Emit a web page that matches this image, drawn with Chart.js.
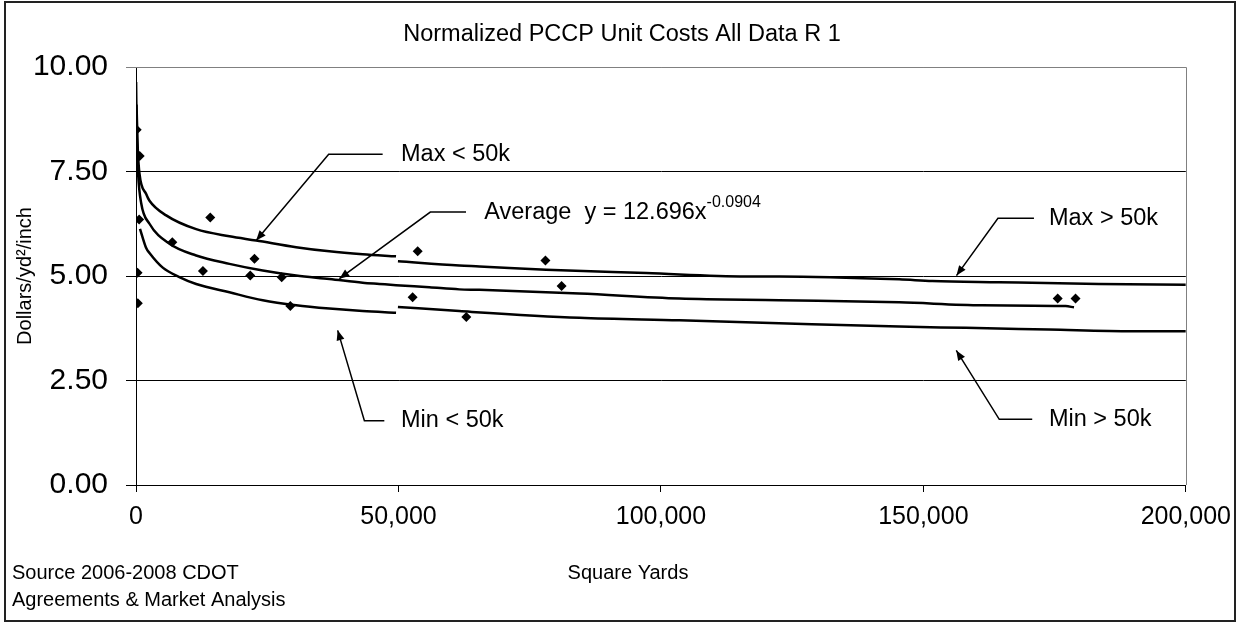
<!DOCTYPE html>
<html>
<head>
<meta charset="utf-8">
<title>Normalized PCCP Unit Costs All Data R 1</title>
<script src="https://cdn.jsdelivr.net/npm/chart.js@4.4.1/dist/chart.umd.min.js"></script>
<style>
  html, body { margin: 0; padding: 0; background: #fff; }
  #wrap { width: 1241px; height: 623px; }
</style>
</head>
<body>
<div id="wrap"><canvas id="pccp" width="1241" height="623"></canvas></div>
<script>
// bid items: square yards vs normalized cost ($/yd2/inch)
var bidYards = [130, 700, 600, 300, 350, 6920, 12750, 14150, 21770, 22570, 27750, 29400, 52700, 53660, 62930, 78000, 81080, 175590, 178990];
var bidCost = [8.50, 7.87, 6.35, 5.08, 4.35, 5.81, 5.12, 6.40, 5.01, 5.41, 4.97, 4.28, 4.49, 5.59, 4.02, 5.37, 4.76, 4.46, 4.46];

// trend curves
var avgYards = [20, 150, 400, 990, 2570, 6380, 11460, 17800, 24150, 30500, 36840, 43180, 46360, 49540, 55880, 61590, 65430, 84470, 103500, 122540, 145400, 161200, 177100, 178700];
var avgCost = [9.64, 8.30, 7.45, 6.74, 6.25, 5.77, 5.49, 5.29, 5.13, 5.01, 4.93, 4.84, 4.81, 4.78, 4.73, 4.68, 4.67, 4.58, 4.46, 4.42, 4.37, 4.30, 4.28, 4.25];

var maxLowYards = [100, 350, 670, 1940, 2570, 5750, 11460, 17800, 22890, 30500, 36840, 43180, 49540];
var maxLowCost = [9.10, 8.00, 7.44, 6.96, 6.80, 6.45, 6.12, 5.95, 5.85, 5.69, 5.59, 5.52, 5.47];

var minLowYards = [760, 1940, 2570, 5100, 8360, 11460, 17800, 24150, 30500, 36840, 43180, 49540];
var minLowCost = [6.13, 5.67, 5.55, 5.20, 4.97, 4.81, 4.61, 4.42, 4.30, 4.22, 4.16, 4.12];

var maxHighYards = [49900, 61590, 65430, 78130, 97170, 116200, 122540, 145400, 151700, 164400, 183450, 200000];
var maxHighCost = [5.35, 5.25, 5.23, 5.15, 5.07, 4.99, 4.99, 4.92, 4.88, 4.85, 4.81, 4.79];

var minHighYards = [49900, 61590, 84470, 103500, 122540, 145400, 158100, 173900, 189800, 200000];
var minHighCost = [4.26, 4.16, 4.00, 3.94, 3.87, 3.79, 3.76, 3.72, 3.68, 3.68];

var yTickValues = [0, 2.5, 5, 7.5, 10];
var yTickLabels = ["0.00", "2.50", "5.00", "7.50", "10.00"];
var xTickValues = [0, 50000, 100000, 150000, 200000];
var xTickLabels = ["0", "50,000", "100,000", "150,000", "200,000"];

var FONT = '"Liberation Sans", Arial, sans-serif';

// callout labels (data units)
var callouts = [
    { text: "Max < 50k", tip: [22890, 5.85], elbow: [36710, 7.91], end: [46990, 7.91], textX: 50490 },
    { text: "Average  y = 12.696x", sup: "-0.0904", tip: [38740, 4.935], elbow: [56070, 6.53], end: [62870, 6.53], textX: 66350 },
    { text: "Max > 50k", tip: [156310, 5.01], elbow: [164210, 6.38], end: [171070, 6.38], textX: 173930 },
    { text: "Min < 50k", tip: [38420, 3.70], elbow: [43510, 1.54], end: [47310, 1.54], textX: 50490 },
    { text: "Min > 50k", tip: [156270, 3.22], elbow: [164460, 1.57], end: [170740, 1.57], textX: 173930 }
];

function pairs(xs, ys) {
    return xs.map(function (x, i) { return { x: x, y: ys[i] }; });
}

function curve(xs, ys) {
    return {
        type: "line",
        data: pairs(xs, ys),
        showLine: true,
        borderColor: "#000",
        borderWidth: 2.5,
        pointRadius: 0,
        fill: false,
        cubicInterpolationMode: "monotone"
    };
}

var calloutPlugin = {
    id: "callouts",
    afterDraw: function (chart) {
        var ctx = chart.ctx;
        var xs = chart.scales.x, ys = chart.scales.y;
        var area = chart.chartArea;
        ctx.save();

        // plot area frame (top and right, gray)
        ctx.strokeStyle = "#808080";
        ctx.lineWidth = 1;
        ctx.beginPath();
        ctx.moveTo(area.left, Math.round(area.top) + 0.5);
        ctx.lineTo(Math.round(area.right) + 0.5, Math.round(area.top) + 0.5);
        ctx.lineTo(Math.round(area.right) + 0.5, area.bottom);
        ctx.stroke();

        callouts.forEach(function (c) {
            var tx = xs.getPixelForValue(c.tip[0]), ty = ys.getPixelForValue(c.tip[1]);
            var ex = xs.getPixelForValue(c.elbow[0]), ey = ys.getPixelForValue(c.elbow[1]);
            var nx = xs.getPixelForValue(c.end[0]);
            ctx.strokeStyle = "#000";
            ctx.lineWidth = 1.5;
            ctx.beginPath();
            ctx.moveTo(nx, ey);
            ctx.lineTo(ex, ey);
            ctx.lineTo(tx, ty);
            ctx.stroke();
            // arrow head
            var ang = Math.atan2(ty - ey, tx - ex);
            ctx.fillStyle = "#000";
            ctx.beginPath();
            ctx.moveTo(tx, ty);
            ctx.lineTo(tx - 10 * Math.cos(ang) + 4 * Math.sin(ang), ty - 10 * Math.sin(ang) - 4 * Math.cos(ang));
            ctx.lineTo(tx - 10 * Math.cos(ang) - 4 * Math.sin(ang), ty - 10 * Math.sin(ang) + 4 * Math.cos(ang));
            ctx.closePath();
            ctx.fill();

            var lx = xs.getPixelForValue(c.textX);
            ctx.font = "23.5px " + FONT;
            ctx.textAlign = "left";
            ctx.textBaseline = "middle";
            ctx.fillText(c.text, lx, ey);
            if (c.sup) {
                var w = ctx.measureText(c.text).width;
                ctx.font = "16px " + FONT;
                ctx.fillText(c.sup, lx + w, ey - 9);
            }
        });

        // chart title
        ctx.fillStyle = "#000";
        ctx.font = "23.5px " + FONT;
        ctx.textAlign = "center";
        ctx.textBaseline = "middle";
        ctx.fillText("Normalized PCCP Unit Costs All Data R 1", 622, 35);

        // axis title and source note
        ctx.font = "20px " + FONT;
        ctx.fillText("Square Yards", 628, 573);
        ctx.textAlign = "left";
        ctx.fillText("Source 2006-2008 CDOT", 12, 573);
        ctx.fillText("Agreements & Market Analysis", 12, 600);

        // outer chart border
        ctx.strokeStyle = "#222";
        ctx.lineWidth = 2;
        ctx.strokeRect(5, 2, chart.width - 11, chart.height - 4);
        ctx.restore();
    }
};

document.addEventListener("DOMContentLoaded", function () {
    var ctx = document.getElementById("pccp").getContext("2d");

    var data = {
        datasets: [
            {
                label: "Bids",
                data: pairs(bidYards, bidCost),
                pointStyle: "rectRot",
                pointRadius: 5,
                backgroundColor: "#000",
                borderColor: "#000",
                borderWidth: 0
            },
            curve(avgYards, avgCost),
            curve(maxLowYards, maxLowCost),
            curve(minLowYards, minLowCost),
            curve(maxHighYards, maxHighCost),
            curve(minHighYards, minHighCost)
        ]
    };

    var options = {
        responsive: false,
        animation: false,
        layout: {
            padding: { left: 0, right: 54, top: 67, bottom: 0 }
        },
        scales: {
            x: {
                type: "linear",
                min: 0,
                max: 200000,
                afterFit: function (scale) { scale.height = 138; },
                afterBuildTicks: function (scale) {
                    scale.ticks = xTickValues.map(function (v) { return { value: v }; });
                },
                ticks: {
                    font: { family: FONT, size: 25 },
                    color: "#000",
                    padding: 10,
                    maxRotation: 0,
                    callback: function (v, i) { return xTickLabels[i]; }
                },
                grid: {
                    drawOnChartArea: false,
                    drawTicks: true,
                    tickLength: 7,
                    color: "#000"
                },
                border: { color: "#000", width: 1 }
            },
            y: {
                min: 0,
                max: 10,
                afterFit: function (scale) { scale.width = 136; },
                afterBuildTicks: function (scale) {
                    scale.ticks = yTickValues.map(function (v) { return { value: v }; });
                },
                ticks: {
                    font: { family: FONT, size: 30 },
                    color: "#000",
                    padding: 18,
                    callback: function (v, i) { return yTickLabels[i]; }
                },
                grid: {
                    tickLength: 10,
                    color: function (c) { return c.tick && c.tick.value === 10 ? "#808080" : "#000"; },
                    lineWidth: 1
                },
                border: { color: "#000", width: 1 },
                title: {
                    display: true,
                    text: "Dollars/yd\u00b2/inch",
                    font: { family: FONT, size: 20 },
                    color: "#000",
                    padding: { top: 13, bottom: 0 }
                }
            }
        },
        plugins: {
            legend: { display: false },
            tooltip: { enabled: false },
            title: { display: false }
        }
    };

    new Chart(ctx, {
        type: "scatter",
        data: data,
        options: options,
        plugins: [calloutPlugin]
    });
});
</script>
</body>
</html>
